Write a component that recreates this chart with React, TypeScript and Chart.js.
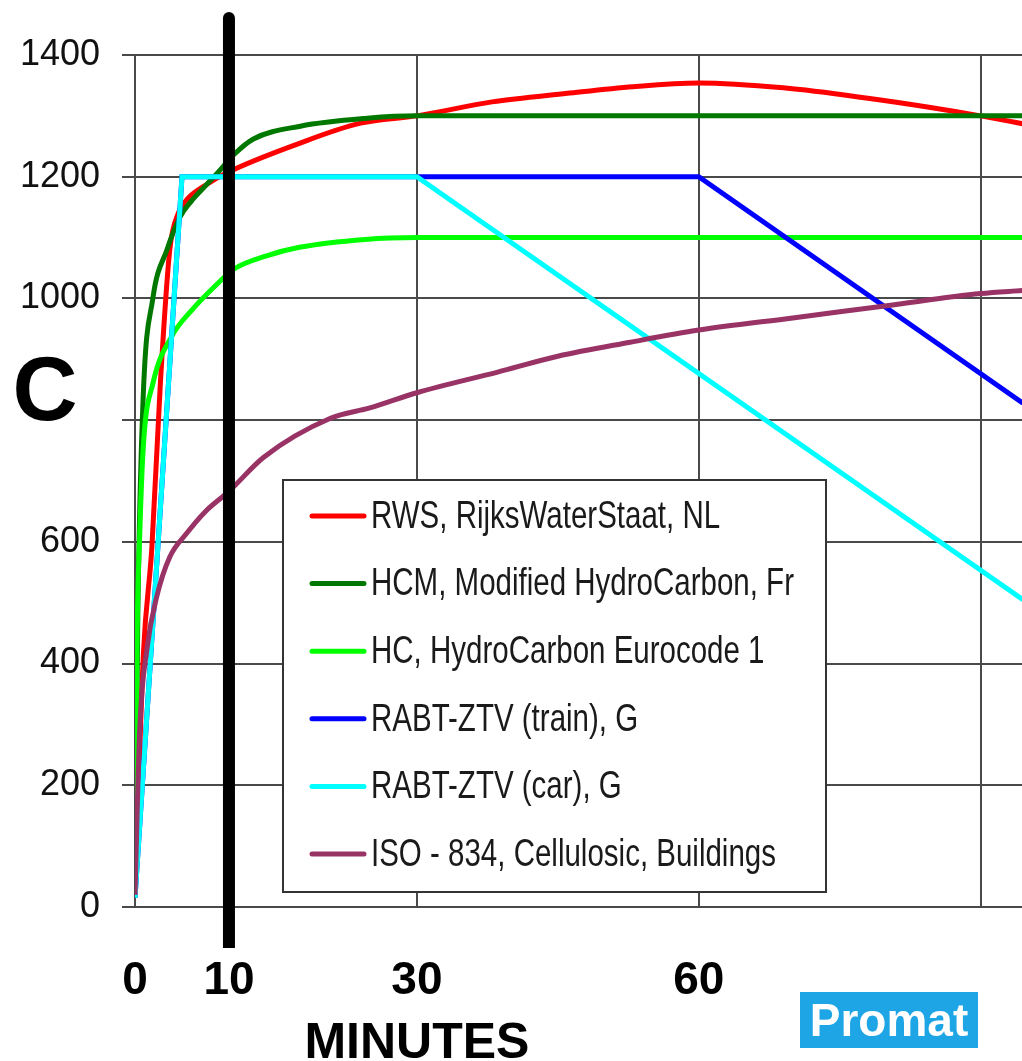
import React, { useEffect, useRef } from 'react';
import { Chart, registerables } from 'chart.js';

Chart.register(...registerables);

const W = 1022;
const H = 1061;

// ---- data ----
const seriesLabels = [
  'RWS, RijksWaterStaat, NL',
  'HCM, Modified HydroCarbon, Fr',
  'HC, HydroCarbon Eurocode 1',
  'RABT-ZTV (train), G',
  'RABT-ZTV (car), G',
  'ISO - 834, Cellulosic, Buildings',
];
const seriesColors = ['#FF0000', '#007800', '#00FF00', '#0000FF', '#00FFFF', '#993366'];

const rwsMinutes = [0, 0.9, 1.8, 2.7, 3.7, 4.6, 5.5, 7.7, 10, 17, 24, 30, 38, 46, 53, 60, 69, 78, 85, 90, 94.5];
const rwsTemp = [20, 417, 592, 861, 1080, 1140, 1162, 1188, 1208, 1252, 1288, 1300, 1323, 1337, 1348, 1354, 1346, 1329, 1313, 1300, 1287];

const hcmMinutes = [0, 0.3, 0.85, 1.9, 3.4, 4.8, 6, 7.5, 9, 10.5, 12.6, 17.6, 24.7, 30, 94.5];
const hcmTemp = [20, 480, 830, 1000, 1080, 1134, 1160, 1185, 1210, 1236, 1262, 1283, 1296, 1300, 1300];

const hcMinutes = [0, 0.2, 0.5, 0.9, 1.9, 4, 6, 8.5, 10.5, 14, 17.5, 24.5, 30, 94.5];
const hcTemp = [20, 420, 610, 760, 860, 940, 980, 1020, 1048, 1070, 1084, 1097, 1100, 1100];

const rabtTrainMinutes = [0, 5, 60, 94.5];
const rabtTrainTemp = [15, 1200, 1200, 828];

const rabtCarMinutes = [0, 5, 30, 94.5];
const rabtCarTemp = [15, 1200, 1200, 505];

const isoMinutes = [0, 0.5, 1.3, 2.3, 3.7, 5.5, 7.5, 10, 13.7, 20.8, 25, 30, 38.6, 45, 52.7, 60, 70, 80, 90, 94.5];
const isoTemp = [20, 291, 427, 509, 575, 614, 650, 683, 739, 803, 820, 845, 879, 905, 928, 948, 968, 988, 1008, 1013];

const seriesMinutes = [rwsMinutes, hcmMinutes, hcMinutes, rabtTrainMinutes, rabtCarMinutes, isoMinutes];
const seriesTemps = [rwsTemp, hcmTemp, hcTemp, rabtTrainTemp, rabtCarTemp, isoTemp];
const seriesSmooth = [true, true, true, false, false, true];

const xTickValues = [0, 10, 30, 60, 90];
const xTickLabels = ['0', '10', '30', '60', ''];
const xGridValues = [30, 60, 90];
const xMax = 94.4;
const yTickValues = [0, 200, 400, 600, 800, 1000, 1200, 1400];
const yTickLabels = ['0', '200', '400', '600', '', '1000', '1200', '1400'];
const markerMinute = 10;
const xTitle = 'MINUTES';
const yTitle = 'C';
const logoText = 'Promat';

const FONT = '"Liberation Sans", Arial, sans-serif';

const overlayPlugin = {
  id: 'overlay',
  afterDatasetsDraw(chart: any) {
    const ctx = chart.ctx as CanvasRenderingContext2D;
    const xs = chart.scales.x;
    const px = xs.getPixelForValue(markerMinute);
    ctx.save();
    // thick black marker line
    ctx.fillStyle = '#000';
    ctx.beginPath();
    ctx.moveTo(px - 6, 948);
    ctx.lineTo(px - 6, 18);
    ctx.arc(px, 18, 6, Math.PI, 0);
    ctx.lineTo(px + 6, 948);
    ctx.closePath();
    ctx.fill();

    // legend box
    const bx = 283, by = 480, bw = 543, bh = 412;
    ctx.fillStyle = '#ffffff';
    ctx.fillRect(bx, by, bw, bh);
    ctx.strokeStyle = '#333';
    ctx.lineWidth = 2;
    ctx.strokeRect(bx, by, bw, bh);
    chart.data.datasets.forEach((ds: any, i: number) => {
      const cy = 516 + i * 67.6;
      ctx.strokeStyle = ds.borderColor;
      ctx.lineWidth = 5;
      ctx.lineCap = 'round';
      ctx.beginPath();
      ctx.moveTo(312, cy);
      ctx.lineTo(364, cy);
      ctx.stroke();
      ctx.save();
      ctx.translate(371, cy);
      ctx.scale(1, 1.3);
      ctx.font = `29.5px ${FONT}`;
      ctx.fillStyle = '#1a1a1a';
      ctx.textBaseline = 'middle';
      ctx.textAlign = 'left';
      ctx.fillText(ds.label, 0, 1);
      ctx.restore();
    });
    ctx.restore();
  },
  afterDraw(chart: any) {
    const ctx = chart.ctx as CanvasRenderingContext2D;
    const xs = chart.scales.x;
    ctx.save();
    // y title "C"
    ctx.fillStyle = '#000';
    ctx.font = `bold 90px ${FONT}`;
    ctx.textAlign = 'center';
    ctx.textBaseline = 'alphabetic';
    ctx.fillText(yTitle, 45, 420);
    // x title
    ctx.font = `bold 50px ${FONT}`;
    ctx.fillText(xTitle, xs.getPixelForValue(30), 1058);
    // logo
    ctx.fillStyle = '#1EA5E5';
    ctx.fillRect(800, 992, 178, 56);
    ctx.fillStyle = '#ffffff';
    ctx.font = `bold 46px ${FONT}`;
    ctx.fillText(logoText, 889, 1036);
    ctx.restore();
  },
};

export default function App() {
  const canvasRef = useRef<HTMLCanvasElement | null>(null);

  useEffect(() => {
    document.body.style.margin = '0';
    document.body.style.overflow = 'hidden';
    const canvas = canvasRef.current;
    if (!canvas) return;

    const datasets = seriesLabels.map((label, i) => ({
      label,
      data: seriesMinutes[i].map((m, j) => ({ x: m, y: seriesTemps[i][j] })),
      borderColor: seriesColors[i],
      backgroundColor: seriesColors[i],
      borderWidth: 5,
      pointRadius: 0,
      fill: false,
      cubicInterpolationMode: seriesSmooth[i] ? ('monotone' as const) : ('default' as const),
      tension: 0,
      order: seriesLabels.length - i,
    }));

    const chart = new Chart(canvas, {
      type: 'line',
      data: { datasets },
      options: {
        animation: false,
        responsive: true,
        maintainAspectRatio: false,
        layout: { padding: { top: 55, left: 0, right: 0, bottom: 0 } },
        plugins: {
          legend: { display: false },
          tooltip: { enabled: false },
        },
        scales: {
          x: {
            type: 'linear',
            min: 0,
            max: xMax,
            afterBuildTicks: (scale: any) => {
              scale.ticks = xTickValues.map((v) => ({ value: v }));
            },
            afterFit: (scale: any) => {
              scale.height = H - 907;
              scale.paddingLeft = 0;
              scale.paddingRight = 0;
            },
            grid: {
              color: (c: any) => (xGridValues.includes(c.tick?.value) ? '#4a4a4a' : 'rgba(0,0,0,0)'),
              lineWidth: 2,
              drawTicks: false,
            },
            border: { display: true, color: '#4a4a4a', width: 2 },
            ticks: {
              autoSkip: false,
              maxRotation: 0,
              padding: 47,
              color: '#000',
              font: { family: FONT, size: 46, weight: 'bold' },
              callback: (v: any) => {
                const i = xTickValues.indexOf(Number(v));
                return i >= 0 ? xTickLabels[i] : '';
              },
            },
          },
          y: {
            type: 'linear',
            min: 0,
            max: 1400,
            afterBuildTicks: (scale: any) => {
              scale.ticks = yTickValues.map((v) => ({ value: v }));
            },
            afterFit: (scale: any) => {
              scale.width = 135;
            },
            grid: {
              color: '#4a4a4a',
              lineWidth: 2,
              drawTicks: true,
              tickLength: 13,
            },
            border: { display: true, color: '#4a4a4a', width: 2 },
            ticks: {
              autoSkip: false,
              padding: 22,
              color: '#111',
              font: { family: FONT, size: 36 },
              callback: (v: any) => {
                const i = yTickValues.indexOf(Number(v));
                return i >= 0 ? yTickLabels[i] : '';
              },
            },
          },
        },
      },
      plugins: [overlayPlugin],
    });

    return () => chart.destroy();
  }, []);

  return (
    <div style={{ position: 'relative', width: W, height: H }}>
      <canvas ref={canvasRef} style={{ display: 'block' }} />
    </div>
  );
}
